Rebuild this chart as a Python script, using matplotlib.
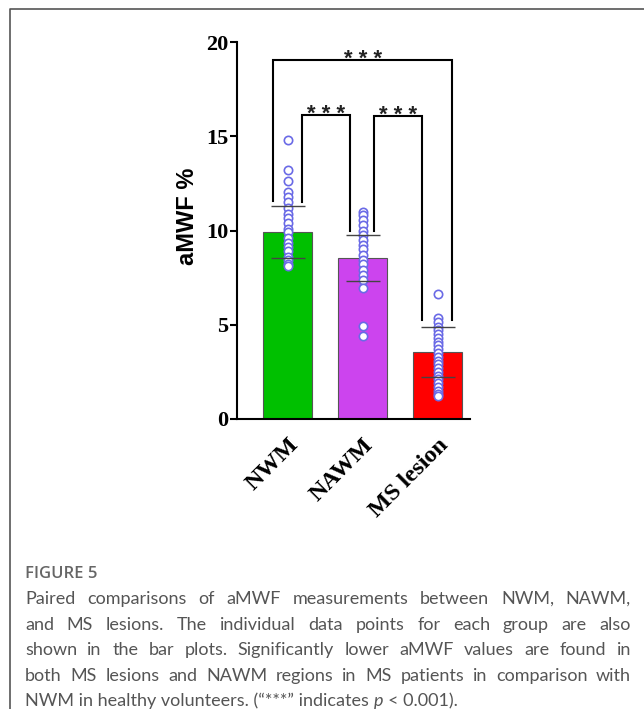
import matplotlib
matplotlib.use('Agg')
import matplotlib.pyplot as plt
import matplotlib.transforms as mtransforms
from matplotlib.lines import Line2D

groups = ['NWM', 'NAWM', 'MS lesion']
means = [9.92, 8.54, 3.55]
sds = [1.36, 1.22, 1.33]
colors = ['#00c000', '#cc44ee', '#ff0000']

pts_nwm = [14.8, 13.2, 12.6, 12.05, 11.8, 11.5, 11.2, 10.9, 10.65, 10.4, 10.1,
           9.9, 9.6, 9.35, 9.1, 8.9, 8.6, 8.45, 8.2, 8.1]
pts_nawm = [11.0, 10.8, 10.55, 10.3, 10.0, 9.75, 9.5, 9.25, 9.0, 8.7, 8.45,
            8.2, 7.9, 7.65, 7.4, 6.95, 4.95, 4.4]
pts_ms = [6.65, 5.35, 5.15, 4.9, 4.7, 4.5, 4.3, 4.1, 3.9, 3.7, 3.5, 3.3, 3.1,
          2.9, 2.7, 2.5, 2.3, 2.1, 1.9, 1.7, 1.5, 1.35, 1.2]
points = [pts_nwm, pts_nawm, pts_ms]

# brackets: (left x, right x, top, left leg bottom, right leg bottom)
brackets = [(-0.19, 2.19, 19.05, 11.55, 5.25),
            (0.19, 0.83, 16.15, 11.5, 10.0),
            (1.15, 1.79, 16.1, 10.0, 5.25)]
sig = '* * *'

caption_head = 'FIGURE 5'
caption_lines = [
    'Paired comparisons of aMWF measurements between NWM, NAWM,',
    'and MS lesions. The individual data points for each group are also',
    'shown in the bar plots. Significantly lower aMWF values are found in',
    'both MS lesions and NAWM regions in MS patients in comparison with',
]
caption_last = ['NWM in healthy volunteers. (\u201c***\u201d indicates ', 'p', ' < 0.001).']

W, H = 644, 709
fig = plt.figure(figsize=(W / 100, H / 100), dpi=100)

def fx(px):
    return px / W

def fy(py):
    return 1 - py / H

ax = fig.add_axes([fx(237), fy(419), (470 - 237) / W, (419 - 42) / H])
x = list(range(len(groups)))
ax.bar(x, means, width=0.65, color=colors, edgecolor='#555555', linewidth=0.8, zorder=2)
for i, p in enumerate(points):
    ax.plot([i] * len(p), p, 'o', ms=6, mfc='white', mec='#6a6ae6', mew=1.2, zorder=3)
ax.errorbar(x, means, yerr=sds, fmt='none', ecolor='#444444', elinewidth=0,
            capsize=12, capthick=1.0, zorder=4)

for xl, xr, top, bl, br in brackets:
    ax.add_line(Line2D([xl, xl, xr, xr], [bl, top, top, br], color='black', lw=1.5,
                       clip_on=False, solid_joinstyle='miter'))
    ax.annotate(sig, xy=((xl + xr) / 2, top), xytext=(0, -4), textcoords='offset points',
                ha='center', va='baseline', fontsize=16, fontweight='bold',
                family='Liberation Sans', color='#222222', annotation_clip=False)

ax.set_xlim(-0.673, 2.43)
ax.set_ylim(0, 20)
ax.set_yticks([0, 5, 10, 15, 20])
ax.set_xticks(x)
ax.set_xticklabels(groups, rotation=45, ha='right', va='top', rotation_mode='anchor')
shift = mtransforms.ScaledTranslation(-5 / 100, 0, fig.dpi_scale_trans)
for lab in ax.get_xticklabels():
    lab.set_family('Liberation Serif')
    lab.set_fontweight('bold')
    lab.set_fontsize(17.5)
    lab.set_transform(lab.get_transform() + shift)
for lab in ax.get_yticklabels():
    lab.set_family('Liberation Serif')
    lab.set_fontweight('bold')
    lab.set_fontsize(16)
ax.tick_params(axis='x', length=0, pad=11)
ax.tick_params(axis='y', length=5, width=1.5, pad=1)
for s in ['top', 'right']:
    ax.spines[s].set_visible(False)
for s in ['left', 'bottom']:
    ax.spines[s].set_linewidth(1.5)

fig.text(fx(187), fy(216), 'aMWF %', rotation=90, ha='center', va='center',
         fontsize=17, fontweight='bold', family='Liberation Sans')

# frame
fig.add_artist(Line2D([fx(9.5), fx(9.5), 1], [0, fy(8.5), fy(8.5)], color='#555555', lw=1.2))

# caption
cap_font = dict(family='Lato', fontsize=13, color='#555555')
fig.text(fx(25), fy(578), caption_head, family='Open Sans', fontsize=12,
         fontweight='semibold', color='#666666', va='baseline')

fig.canvas.draw()
r = fig.canvas.get_renderer()

def width_of(t):
    return t.get_window_extent(r).width

x0, x1 = 25, 631
y_base = 604
lh = 25.6
for k, line in enumerate(caption_lines):
    words = line.split(' ')
    txts = [fig.text(0, fy(y_base + k * lh), w, va='baseline', **cap_font) for w in words]
    ws = [width_of(t) for t in txts]
    gap = (x1 - x0 - sum(ws)) / (len(words) - 1)
    xp = x0
    for t, w in zip(txts, ws):
        t.set_x(fx(xp))
        xp += w + gap

tmp = fig.text(0, 0, 'a a', **cap_font)
tmp2 = fig.text(0, 0, 'aa', **cap_font)
space = width_of(tmp) - width_of(tmp2)
tmp.remove()
tmp2.remove()

yl = fy(y_base + len(caption_lines) * lh)
xp = x0
for j, piece in enumerate(caption_last):
    style = 'italic' if piece == 'p' else 'normal'
    lead = len(piece) - len(piece.lstrip(' '))
    trail = len(piece) - len(piece.rstrip(' '))
    xp += lead * space
    t = fig.text(fx(xp), yl, piece.strip(' '), va='baseline', style=style, **cap_font)
    xp += width_of(t) + trail * space

fig.savefig('out.png', dpi=100)
